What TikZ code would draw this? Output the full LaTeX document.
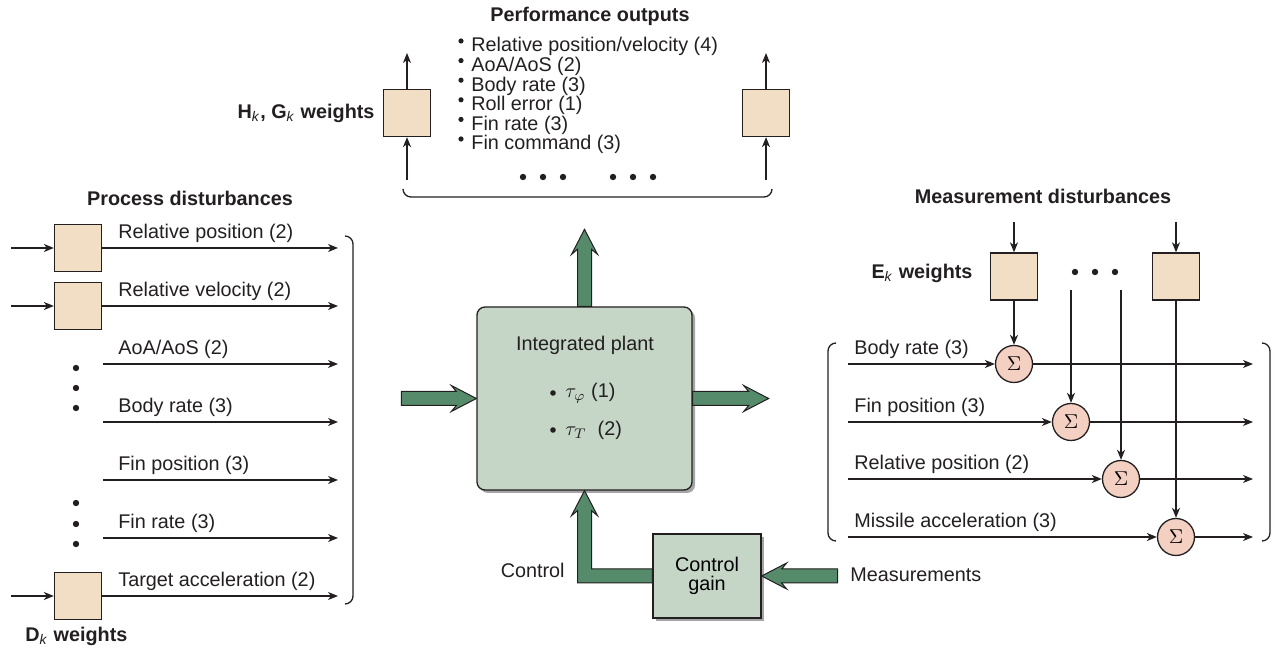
\documentclass[tikz,border=0pt]{standalone}
\usepackage{fontspec}
\setmainfont{Liberation Sans}
\usepackage{amsmath}
\usetikzlibrary{arrows.meta,calc,shadows}

\definecolor{ink}{RGB}{35,31,32}
\definecolor{wfill}{RGB}{242,222,196}
\definecolor{sfill}{RGB}{243,208,194}
\definecolor{plantfill}{RGB}{197,214,199}
\definecolor{fatgreen}{RGB}{85,139,106}

\tikzset{
  lbl/.style={inner sep=0pt, text=ink},
  ttl/.style={inner sep=0pt, text=ink, font=\fontsize{9.9}{11}\selectfont\bfseries},
  sig/.style={draw=ink, line width=0.65pt, -{Stealth[length=5pt,width=4pt,inset=1.5pt]}},
  brk/.style={draw=ink, line width=0.65pt, rounded corners=4pt},
  wbox/.style={draw=ink, fill=wfill, line width=0.65pt, minimum width=23.5pt, minimum height=23.5pt, inner sep=0pt},
  sumnode/.style={circle, draw=ink, fill=sfill, line width=0.65pt, minimum size=18.5pt, inner sep=0pt, font=\fontsize{10}{11}\selectfont},
  plantbox/.style={draw=ink, fill=plantfill, line width=0.65pt, drop shadow={shadow xshift=1.5pt, shadow yshift=-1.5pt, fill=black!70}},
  fatarrow/.style={draw=ink, fill=fatgreen, line width=0.5pt, line join=miter}
}

% fat green arrow along +x, length in px
\newcommand{\fatarr}[1]{%
  \filldraw[fatarrow] (0,-7) -- ({#1-20},-7) -- ({#1-25},-13) -- (#1,0) -- ({#1-25},13) -- ({#1-20},7) -- (0,7) -- cycle;}

\begin{document}
\begin{tikzpicture}[x=0.5pt, y=-0.5pt, font=\fontsize{9.9}{11}\selectfont]
  \useasboundingbox (0,0) rectangle (1275,651);

  % ---- process disturbances (left)
  \node[ttl] (proctitle) at (190,198) {Process disturbances};
  \foreach \name/\yy in {d1/248, d2/306, d3/596} {
    \node[wbox] (\name) at (78,\yy) {};
    \coordinate (\name in) at (11,\yy);
    \draw[sig] (\name in) -- (\name);
  }
  \foreach \i/\yy in {3/364, 4/422, 5/480, 6/538}
    \coordinate (ps\i) at (103,\yy);
  \foreach \i/\src/\yy/\txt in {1/d1/248/{Relative position (2)}, 2/d2/306/{Relative velocity (2)},
      3/ps3/364/{AoA/AoS (2)}, 4/ps4/422/{Body rate (3)}, 5/ps5/480/{Fin position (3)},
      6/ps6/538/{Fin rate (3)}, 7/d3/596/{Target acceleration (2)}} {
    \coordinate (pe\i) at (338,\yy);
    \draw[sig] (\src) -- (pe\i);
    \node[lbl, anchor=base west] (pl\i) at (118,\yy-9) {\txt};
  }
  \foreach \yy in {368,388,408,503,524,544}
    \fill[ink] (76,\yy) circle[radius=3.2];
  \draw[brk] (345,236) -- (353,236) -- (353,604) -- (345,604);
  \node[lbl, anchor=west] (dlbl) at (25,636) {\textbf{D}\textsubscript{\textit{k}} \textbf{weights}};

  % ---- performance outputs (top)
  \node[ttl] (perftitle) at (590,16) {Performance outputs};
  \foreach \i/\txt in {0/{Relative position/velocity (4)}, 1/{AoA/AoS (2)}, 2/{Body rate (3)},
      3/{Roll error (1)}, 4/{Fin rate (3)}, 5/{Fin command (3)}} {
    \node[lbl, anchor=base west] (po\i) at (471,{52+19.6*\i}) {\txt};
    \fill[ink] ($(po\i.base west)+(-10,-11)$) circle[radius=2.6];
  }
  \node[wbox] (hg1) at (407,113) {};
  \node[wbox] (hg2) at (766,113) {};
  \foreach \n in {hg1,hg2} {
    \coordinate (\n in) at ($(\n)+(0,67)$);
    \coordinate (\n out) at ($(\n)+(0,-60)$);
    \draw[sig] (\n in) -- (\n);
    \draw[sig] (\n) -- (\n out);
  }
  \node[lbl, anchor=east] (hglbl) at ($(hg1.west)+(-8,0)$)
    {\textbf{H}\textsubscript{\textit{k}}\textbf{, G}\textsubscript{\textit{k}} \textbf{weights}};
  \foreach \xx in {523,543,563,613,633,653}
    \fill[ink] (\xx,177) circle[radius=3.2];
  \draw[brk] (403,189) -- (403,197) -- (772,197) -- (772,189);

  % ---- plant and control gain
  \node[plantbox, rounded corners=4pt, minimum width=107.5pt, minimum height=91.5pt] (plant) at (584.5,398.5) {};
  \node[lbl] (plantlbl) at (585,345) {Integrated plant};
  \node[lbl, anchor=west] (tau1) at (565,393) {$\tau_{\varphi}$ (1)};
  \node[lbl, anchor=west] (tau2) at (565,430) {$\tau_T$\ \ (2)};
  \fill[ink] ($(tau1.west)+(-12,0)$) circle[radius=2.8];
  \fill[ink] ($(tau2.west)+(-12,0)$) circle[radius=2.8];

  \node[plantbox, minimum width=54pt, minimum height=42pt, align=center,
        font=\fontsize{9.9}{9.8}\selectfont] (ctrlgain) at (707,576) {Control\\gain};
  \node[lbl, anchor=east] (ctrllbl) at (565,570) {Control};
  \node[lbl, anchor=west] (measlbl) at (850,575) {Measurements};

  % fat arrows
  \begin{scope}[shift={(plant.north)}, rotate=90]
    \fatarr{77}
  \end{scope}
  \begin{scope}[shift={($(plant.west)+(-75,0)$)}]
    \fatarr{75}
  \end{scope}
  \begin{scope}[shift={(plant.east)}]
    \fatarr{76}
  \end{scope}
  \begin{scope}[shift={($(ctrlgain.east)+(76,0)$)}, rotate=180]
    \fatarr{76}
  \end{scope}
  \filldraw[fatarrow] ($(ctrlgain.west)+(0,-7)$) -- ($(plant.south |- ctrlgain.west)+(7,-7)$)
    -- ($(plant.south)+(7,20)$) -- ($(plant.south)+(13,25)$) -- (plant.south)
    -- ($(plant.south)+(-13,25)$) -- ($(plant.south)+(-7,20)$)
    -- ($(plant.south |- ctrlgain.west)+(-7,7)$) -- ($(ctrlgain.west)+(0,7)$) -- cycle;

  % ---- measurement disturbances (right)
  \node[ttl] (meastitle) at (1043,196) {Measurement disturbances};
  \node[wbox] (e1) at (1014,276.5) {};
  \node[wbox] (e2) at (1176,276.5) {};
  \foreach \n in {e1,e2} {
    \coordinate (\n in) at ($(\n)+(0,-54)$);
    \draw[sig] (\n in) -- (\n);
  }
  \node[lbl, anchor=east] (elbl) at ($(e1.west)+(-17,-3)$) {\textbf{E}\textsubscript{\textit{k}} \textbf{weights}};
  \foreach \xx in {1075,1095,1115}
    \fill[ink] (\xx,272) circle[radius=3.2];

  \foreach \i/\xx/\yy/\txt in {1/1014/364/{Body rate (3)}, 2/1071/422/{Fin position (3)},
      3/1121/479/{Relative position (2)}, 4/1176/537/{Missile acceleration (3)}} {
    \node[sumnode] (s\i) at (\xx,\yy) {$\Sigma$};
    \coordinate (ms\i) at (848,\yy);
    \coordinate (me\i) at (1253,\yy);
    \draw[sig] (ms\i) -- (s\i);
    \draw[sig] (s\i) -- (me\i);
    \node[lbl, anchor=base west] (ml\i) at (854,\yy-9) {\txt};
  }
  \coordinate (v2) at (1071,290);
  \coordinate (v3) at (1121,290);
  \draw[sig] (e1) -- (s1);
  \draw[sig] (v2) -- (s2);
  \draw[sig] (v3) -- (s3);
  \draw[sig] (e2) -- (s4);
  \draw[brk] (836,343) -- (828,343) -- (828,541) -- (836,541);
  \draw[brk] (1262,343) -- (1270,343) -- (1270,541) -- (1262,541);
\end{tikzpicture}
\end{document}
